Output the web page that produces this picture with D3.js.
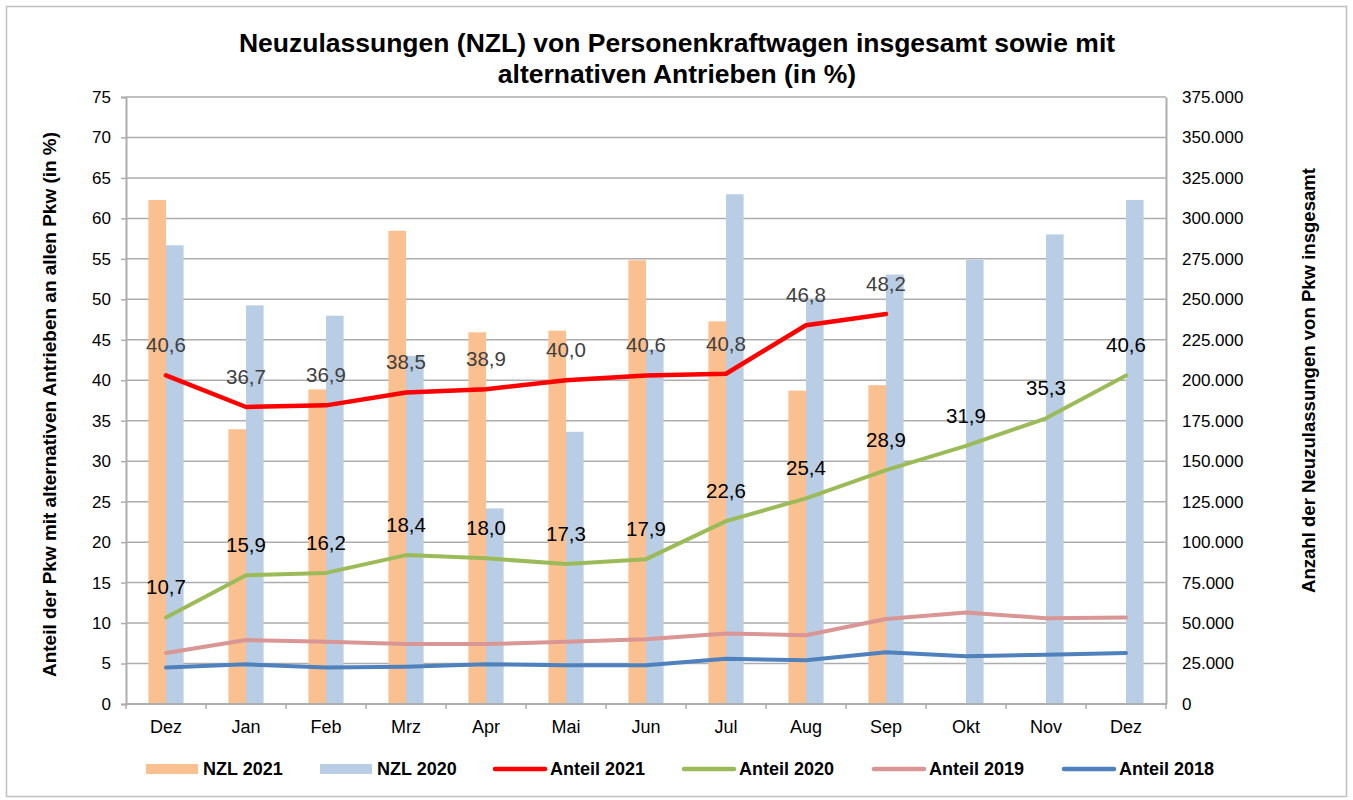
<!DOCTYPE html>
<html><head><meta charset="utf-8">
<script src="https://cdn.jsdelivr.net/npm/d3@7"></script>
<style>
html,body{margin:0;padding:0;background:#fff;}
svg{display:block;font-family:"Liberation Sans",Arial,sans-serif;}
</style></head>
<body>
<svg id="c" width="1353" height="800"></svg>
<script>
const categories = ["Dez","Jan","Feb","Mrz","Apr","Mai","Jun","Jul","Aug","Sep","Okt","Nov","Dez"];
const nzl2021 = [311400,169750,194350,292350,229650,230650,274150,236400,193600,196950,null,null,null];
const nzl2020 = [283400,246300,239900,215100,120850,168150,219000,314900,250000,265300,274300,290100,311400];
const anteil2021 = [40.6,36.7,36.9,38.5,38.9,40.0,40.6,40.8,46.8,48.2,null,null,null];
const anteil2020 = [10.7,15.9,16.2,18.4,18.0,17.3,17.9,22.6,25.4,28.9,31.9,35.3,40.6];
const anteil2019 = [6.3,7.9,7.7,7.4,7.4,7.7,8.0,8.7,8.5,10.5,11.3,10.6,10.7];
const anteil2018 = [4.5,4.9,4.5,4.6,4.9,4.8,4.8,5.6,5.4,6.4,5.9,6.1,6.3];
const leftTicks = [0,5,10,15,20,25,30,35,40,45,50,55,60,65,70,75];
const rightTicks = [0,25000,50000,75000,100000,125000,150000,175000,200000,225000,250000,275000,300000,325000,350000,375000];
const titleLines = ["Neuzulassungen (NZL) von Personenkraftwagen insgesamt sowie mit","alternativen Antrieben (in %)"];
const leftTitle = "Anteil der Pkw mit alternativen Antrieben an allen Pkw (in %)";
const rightTitle = "Anzahl der Neuzulassungen von Pkw insgesamt";
const barSeries = [
  {name:"NZL 2021", values:nzl2021, color:"#FAC090"},
  {name:"NZL 2020", values:nzl2020, color:"#B9CDE5"}
];
const lineSeries = [
  {name:"Anteil 2021", values:anteil2021, color:"#FF0000", label:true, labelColor:"#404040", width:4.5},
  {name:"Anteil 2020", values:anteil2020, color:"#9BBB59", label:true, labelColor:"#000000", width:4},
  {name:"Anteil 2019", values:anteil2019, color:"#D99694", label:false, width:4},
  {name:"Anteil 2018", values:anteil2018, color:"#4F81BD", label:false, width:4}
];

const svg = d3.select("#c");
const L = 126, R = 1166, T = 97, B = 704;
const gridColor = "#ADADAD";

svg.append("rect").attr("x",6.5).attr("y",6.5).attr("width",1340).attr("height",790)
  .attr("fill","#fff").attr("stroke","#C0C0C0").attr("stroke-width",1.5);

const x = d3.scaleBand().domain(d3.range(categories.length)).range([L,R]).padding(0);
const yL = d3.scaleLinear().domain([0,75]).range([B,T]);
const yR = d3.scaleLinear().domain([0,375000]).range([B,T]);
const groupW = x.bandwidth()*0.44;
const xb = d3.scaleBand().domain(barSeries.map(s=>s.name)).range([0,groupW]).padding(0);

const de = d3.formatLocale({decimal:",",thousands:".",grouping:[3],currency:["","€"]});
const fmtR = de.format(",.0f");
const fmtL = de.format(".1f");

// gridlines
svg.append("g").selectAll("line").data(leftTicks.filter(t=>t>0)).join("line")
  .attr("x1",L).attr("x2",R).attr("y1",d=>yL(d)).attr("y2",d=>yL(d))
  .attr("stroke",gridColor).attr("stroke-width",1.5);

// bars
barSeries.forEach(s=>{
  svg.append("g").selectAll("rect").data(s.values.map((v,i)=>({v,i})).filter(d=>d.v!=null)).join("rect")
    .attr("x",d=>x(d.i)+x.bandwidth()/2-groupW/2+xb(s.name))
    .attr("width",xb.bandwidth())
    .attr("y",d=>yR(d.v)).attr("height",d=>B-yR(d.v))
    .attr("fill",s.color);
});

// axes
const gL = svg.append("g").attr("transform",`translate(${L},0)`)
  .call(d3.axisLeft(yL).tickValues(leftTicks).tickSize(5).tickPadding(10).tickFormat(d=>d));
const gR = svg.append("g").attr("transform",`translate(${R},0)`)
  .call(d3.axisRight(yR).tickValues(rightTicks).tickSize(0).tickPadding(16).tickFormat(fmtR));
const gX = svg.append("g").attr("transform",`translate(0,${B})`)
  .call(d3.axisBottom(x).tickSize(0).tickPadding(16).tickFormat(i=>categories[i]));
[gL,gR,gX].forEach(g=>{
  g.select(".domain").attr("stroke",gridColor).attr("stroke-width",2);
  g.selectAll(".tick line").attr("stroke",gridColor).attr("stroke-width",1.5);
  g.selectAll("text").attr("fill","#000").style("font-size","17px").style("font-family","'Liberation Sans',Arial,sans-serif");
});
gX.selectAll("text").style("font-size","18px");
gX.select(".domain").attr("d",`M${L},0H${R}`);
// x ticks at band boundaries
svg.append("g").selectAll("line").data(d3.range(categories.length+1)).join("line")
  .attr("x1",i=>L+i*x.bandwidth()).attr("x2",i=>L+i*x.bandwidth())
  .attr("y1",B).attr("y2",B+5).attr("stroke",gridColor).attr("stroke-width",1.5);

// lines
lineSeries.forEach(s=>{
  const line = d3.line().defined(d=>d.v!=null).x(d=>x(d.i)+x.bandwidth()/2).y(d=>yL(d.v));
  const pts = s.values.map((v,i)=>({v,i}));
  svg.append("path").datum(pts).attr("d",line).attr("fill","none")
    .attr("stroke",s.color).attr("stroke-width",s.width).attr("stroke-linejoin","round").attr("stroke-linecap","round");
});
lineSeries.filter(s=>s.label).forEach(s=>{
  svg.append("g").selectAll("text").data(s.values.map((v,i)=>({v,i})).filter(d=>d.v!=null)).join("text")
    .attr("x",d=>x(d.i)+x.bandwidth()/2).attr("y",d=>yL(d.v)-23)
    .attr("text-anchor","middle").attr("fill",s.labelColor).style("font-size","20.5px")
    .text(d=>fmtL(d.v));
});

// title
svg.append("g").selectAll("text").data(titleLines).join("text")
  .attr("x",677).attr("y",(d,i)=>52+i*31).attr("text-anchor","middle")
  .style("font-size","26.5px").style("font-weight","bold").text(d=>d);

// axis titles
svg.append("text").attr("transform","translate(56,404.5) rotate(-90)").attr("text-anchor","middle")
  .attr("textLength",545).attr("lengthAdjust","spacingAndGlyphs")
  .style("font-size","18px").style("font-weight","bold").text(leftTitle);
svg.append("text").attr("transform","translate(1315,380.5) rotate(-90)").attr("text-anchor","middle")
  .attr("textLength",425).attr("lengthAdjust","spacingAndGlyphs")
  .style("font-size","18px").style("font-weight","bold").text(rightTitle);

// legend
const legendX = [146,320,493,682,872,1062];
const legendItems = [...barSeries.map(s=>({name:s.name,color:s.color,type:"bar"})),
                     ...lineSeries.map(s=>({name:s.name,color:s.color,type:"line"}))];
const lg = svg.append("g").selectAll("g").data(legendItems).join("g")
  .attr("transform",(d,i)=>`translate(${legendX[i]},769)`);
lg.filter(d=>d.type==="bar").append("rect").attr("x",0).attr("y",-5).attr("width",52).attr("height",10).attr("fill",d=>d.color);
lg.filter(d=>d.type==="line").append("line").attr("x1",2).attr("x2",52).attr("y1",0).attr("y2",0)
  .attr("stroke",d=>d.color).attr("stroke-width",4.5).attr("stroke-linecap","round");
lg.append("text").attr("x",57).attr("y",6).style("font-size","18px").style("font-weight","bold").text(d=>d.name);
</script>
</body></html>
